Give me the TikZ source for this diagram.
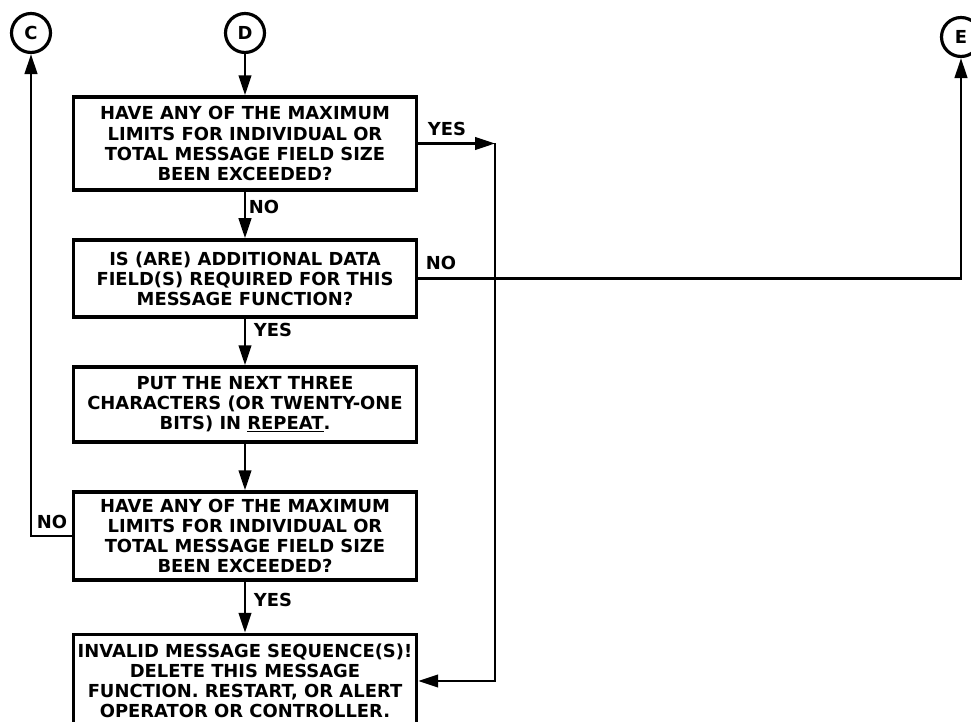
\documentclass[tikz,border=0pt]{standalone}
\usepackage{fontspec}
\usepackage{tikz}
\usetikzlibrary{arrows.meta, positioning}
\newfontfamily\flowfamily{DejaVu Sans}
\newcommand{\flowfont}{\flowfamily\bfseries\fontsize{10.2}{11.4}\selectfont}

\begin{document}
\begin{tikzpicture}[
  x=0.02cm, y=-0.02cm,
  flowbox/.style={draw, line width=2pt, minimum width=6.86cm,
                  align=center, font=\flowfont, inner sep=0pt},
  connector/.style={circle, draw, line width=1.8pt, minimum size=0.78cm,
                    inner sep=0pt, font=\flowfont},
  lbl/.style={font=\flowfont, inner sep=0pt},
  flow/.style={line width=1.5pt, -{Triangle[length=0.4cm, width=0.25cm]}},
]
  \useasboundingbox (0,0) rectangle (971,722);

  % off-page connectors
  \node[connector] (C) at (31, 33) {C};
  \node[connector] (D) at (245, 33) {D};
  \node[connector] (E) at (961, 37) {E};

  % boxes
  \node[flowbox, minimum height=1.86cm] (q1) at (245, 143.5)
    {HAVE ANY OF THE MAXIMUM\\ LIMITS FOR INDIVIDUAL OR\\
     TOTAL MESSAGE FIELD SIZE\\ BEEN EXCEEDED?};
  \node[flowbox, minimum height=1.54cm] (q2) at (245, 278.5)
    {IS (ARE) ADDITIONAL DATA\\ FIELD(S) REQUIRED FOR THIS\\
     MESSAGE FUNCTION?};
  \node[flowbox, minimum height=1.5cm] (act1) at (245, 404.5)
    {PUT THE NEXT THREE\\ CHARACTERS (OR TWENTY-ONE\\
     BITS) IN \underline{REPEAT}.};
  \node[flowbox, minimum height=1.76cm] (q3) at (245, 536)
    {HAVE ANY OF THE MAXIMUM\\ LIMITS FOR INDIVIDUAL OR\\
     TOTAL MESSAGE FIELD SIZE\\ BEEN EXCEEDED?};
  \node[flowbox, minimum height=1.86cm] (act2) at (245, 681)
    {INVALID MESSAGE SEQUENCE(S)!\\ DELETE THIS MESSAGE\\
     FUNCTION. RESTART, OR ALERT\\ OPERATOR OR CONTROLLER.};

  % main line
  \draw[flow] (D) -- (q1);
  \draw[flow] (q1) -- (q2);
  \draw[flow] (q2) -- (act1);
  \draw[flow] (act1) -- (q3);
  \draw[flow] (q3) -- (act2);

  % branches
  \coordinate (yesturn) at (495, 143.5);
  \draw[flow] (q1.east) -- (yesturn);
  \draw[flow] (yesturn) |- (act2.east);
  \draw[flow] (q2.east) -| (E.south);
  \draw[flow] (q3.west) -| (C.south);

  % branch labels
  \node[lbl] (l1) at (447, 129) {YES};
  \node[lbl] (l2) at (264, 207) {NO};
  \node[lbl] (l3) at (441, 263) {NO};
  \node[lbl] (l4) at (273, 330) {YES};
  \node[lbl] (l5) at (52, 522) {NO};
  \node[lbl] (l6) at (273, 600) {YES};
\end{tikzpicture}
\end{document}
